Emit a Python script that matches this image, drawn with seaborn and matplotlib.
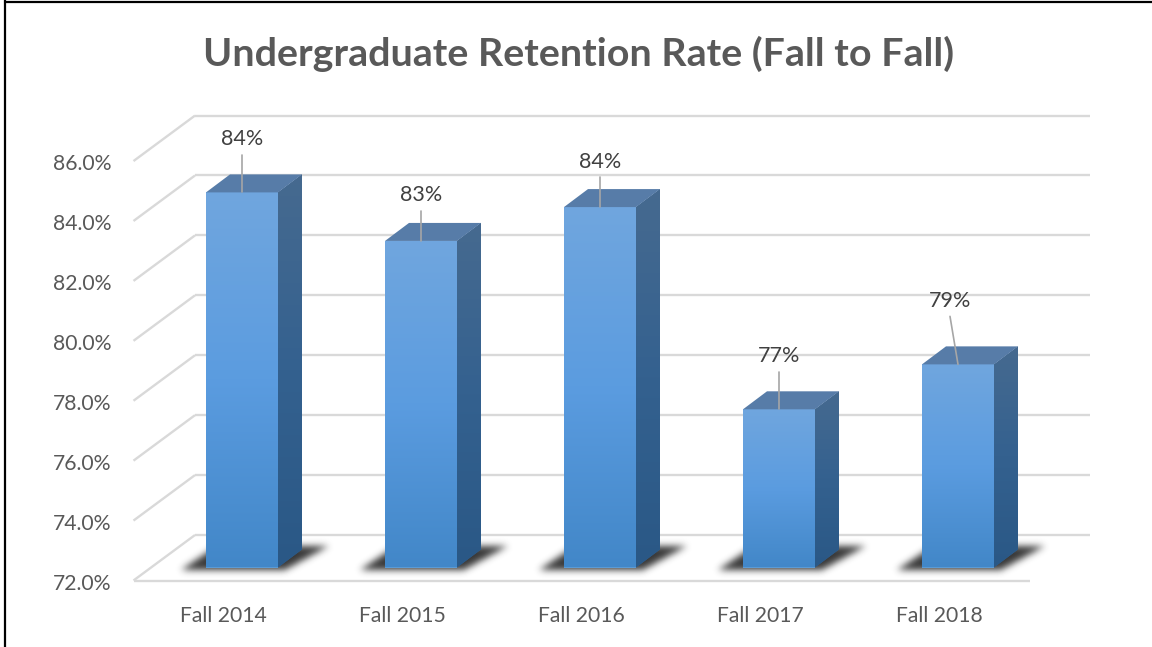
import numpy as np
import matplotlib
matplotlib.use('Agg')
import matplotlib.pyplot as plt
from matplotlib.colors import LinearSegmentedColormap
from matplotlib.lines import Line2D
from matplotlib.patches import Polygon
from matplotlib.transforms import Affine2D
import seaborn as sns

# Chart values
years = ['Fall 2014', 'Fall 2015', 'Fall 2016', 'Fall 2017', 'Fall 2018']
rates = [84.52, 82.9, 84.03, 77.28, 78.78]
rate_labels = ['84%', '83%', '84%', '77%', '79%']
y_ticks = [72, 74, 76, 78, 80, 82, 84, 86]

W, H = 1152, 647
UNIT_X, UNIT_Y = 179.0, 29.96  # pixels per category / per percent
PX_X, PX_Y = 1 / UNIT_X, 1 / UNIT_Y
BASE = 72
BAR_PX = 72
SHADOW_LEFT = 24


def shadow_sprite(pad=14, sigma=3.5, strength=0.9):
    """Blurred parallelogram, as an RGBA array in pixels (row 0 at the bottom)."""
    nx, ny = SHADOW_LEFT + BAR_PX + 52 + 2 * pad, 24 + 2 * pad
    mask = np.zeros((ny, nx))
    for row in range(24):
        start = pad + row * 36 / 24
        stop = pad + SHADOW_LEFT + BAR_PX + 8 + row * 44 / 24
        mask[pad + row, int(start):int(stop)] = 1
    half = int(3 * sigma)
    kernel = np.exp(-0.5 * (np.arange(-half, half + 1) / sigma) ** 2)
    kernel /= kernel.sum()
    mask = np.apply_along_axis(np.convolve, 0, mask, kernel, mode='same')
    mask = np.apply_along_axis(np.convolve, 1, mask, kernel, mode='same')
    rgba = np.zeros((ny, nx, 4))
    rgba[..., :3] = 0.13
    rgba[..., 3] = mask * strength
    return rgba, pad


sns.set_theme(style='white')
plt.rcParams['font.family'] = ['Lato', 'DejaVu Sans']

fig = plt.figure(figsize=(W / 100, H / 100), dpi=100)
ax = fig.add_axes([152.5 / W, (H - 567.5) / H, 895 / W, 14 * UNIT_Y / H])

sns.barplot(x=years, y=rates, width=BAR_PX * PX_X, color='#5b9bd5', saturation=1,
            errorbar=None, zorder=3, linewidth=0, ax=ax)

front_cmap = LinearSegmentedColormap.from_list('front', ['#70a6de', '#5b9ce0', '#4287c8'])
side_cmap = LinearSegmentedColormap.from_list('side', ['#466a90', '#34618f', '#2a5886'])
ramp = np.linspace(0, 1, 256).reshape(-1, 1)
sprite, pad = shadow_sprite()

# Walls and floor
dx_back, dy_back = 42.5 * PX_X, 32.5 * PX_Y
dx_front, dy_front = -19 * PX_X, -13 * PX_Y
grid_kw = dict(color='#d9d9d9', lw=1.7, clip_on=False, zorder=1, solid_capstyle='butt')
for t in y_ticks:
    ax.plot([-0.5 + dx_front, -0.5 + dx_back], [t + dy_front, t + dy_back], **grid_kw)
    ax.plot([-0.5 + dx_back, 4.5 + dx_back], [t + dy_back, t + dy_back], **grid_kw)
ax.plot([-0.5 + dx_front, 4.5 - 17.5 * PX_X], [BASE + dy_front, BASE + dy_front], **grid_kw)

depth_x, depth_y = 24 * PX_X, 18 * PX_Y
label_offsets = [(0, 53), (0, 46), (0, 45), (0, 53), (-8, 63)]
leader_tops = [37, 30, 30, 37, 48]

for i, bar in enumerate(list(ax.patches)):
    l, r = bar.get_x(), bar.get_x() + bar.get_width()
    v = rates[i]

    # Soft shadow on the floor
    x0 = l - (SHADOW_LEFT + pad) * PX_X
    y0 = BASE - (3 + pad) * PX_Y
    im = ax.imshow(sprite, origin='lower', aspect='auto', zorder=2,
                   extent=(x0, x0 + sprite.shape[1] * PX_X, y0, y0 + sprite.shape[0] * PX_Y))
    im.set_clip_on(False)

    # Front face gradient
    im = ax.imshow(ramp, cmap=front_cmap, aspect='auto', extent=(l, r, BASE, v),
                   origin='upper', zorder=3.1)
    im.set_clip_path(bar)

    # Side face
    side = Polygon([(r, BASE), (r + depth_x, BASE + depth_y), (r + depth_x, v + depth_y), (r, v)],
                   fc='#34618f', ec='none', zorder=3)
    ax.add_patch(side)
    im = ax.imshow(ramp, cmap=side_cmap, aspect='auto',
                   extent=(r, r + depth_x, BASE, v + depth_y), origin='upper', zorder=3.1)
    im.set_clip_path(side)

    # Top face
    ax.add_patch(Polygon([(l, v), (r, v), (r + depth_x, v + depth_y), (l + depth_x, v + depth_y)],
                         fc='#577ca8', ec='none', zorder=3.2))

    # Data label with leader line
    off_x, off_y = label_offsets[i]
    ax.plot([i + off_x * PX_X, i], [v + leader_tops[i] * PX_Y, v], color='#a6a6a6', lw=1.2,
            clip_on=False, zorder=4)
    ax.annotate(rate_labels[i], xy=(i, v), xytext=(off_x, off_y), textcoords='offset pixels',
                ha='center', va='center', fontsize=15.5, color='#404040', zorder=5)

ax.set_xlim(-0.5, 4.5)
ax.set_ylim(72, 86)
ax.set_yticks(y_ticks)
ax.set_yticklabels([f'{t:.1f}%' for t in y_ticks])
ax.tick_params(axis='y', length=0, pad=29.5, labelsize=15.2, labelcolor='#595959')
ax.tick_params(axis='x', length=0, pad=28, labelsize=15.2, labelcolor='#595959')
for tick_label in ax.get_yticklabels():
    tick_label.set_transform(tick_label.get_transform() + Affine2D().translate(0, -14))
for tick_label in ax.get_xticklabels():
    tick_label.set_transform(tick_label.get_transform() + Affine2D().translate(-19, 0))
sns.despine(ax=ax, left=True, bottom=True)
ax.set_xlabel('')
ax.set_ylabel('')

fig.text(579 / W, (H - 54) / H, 'Undergraduate Retention Rate (Fall to Fall)', ha='center',
         va='center', fontsize=28.4, fontweight='bold', color='#595959')

# Picture frame (top and left edges only)
fig.add_artist(Line2D([5 / W, 5 / W], [0, 1], color='black', lw=1.6))
fig.add_artist(Line2D([5 / W, 1], [1 - 1.5 / H, 1 - 1.5 / H], color='black', lw=1.6))

plt.savefig('out.png', dpi=100)
plt.close()
